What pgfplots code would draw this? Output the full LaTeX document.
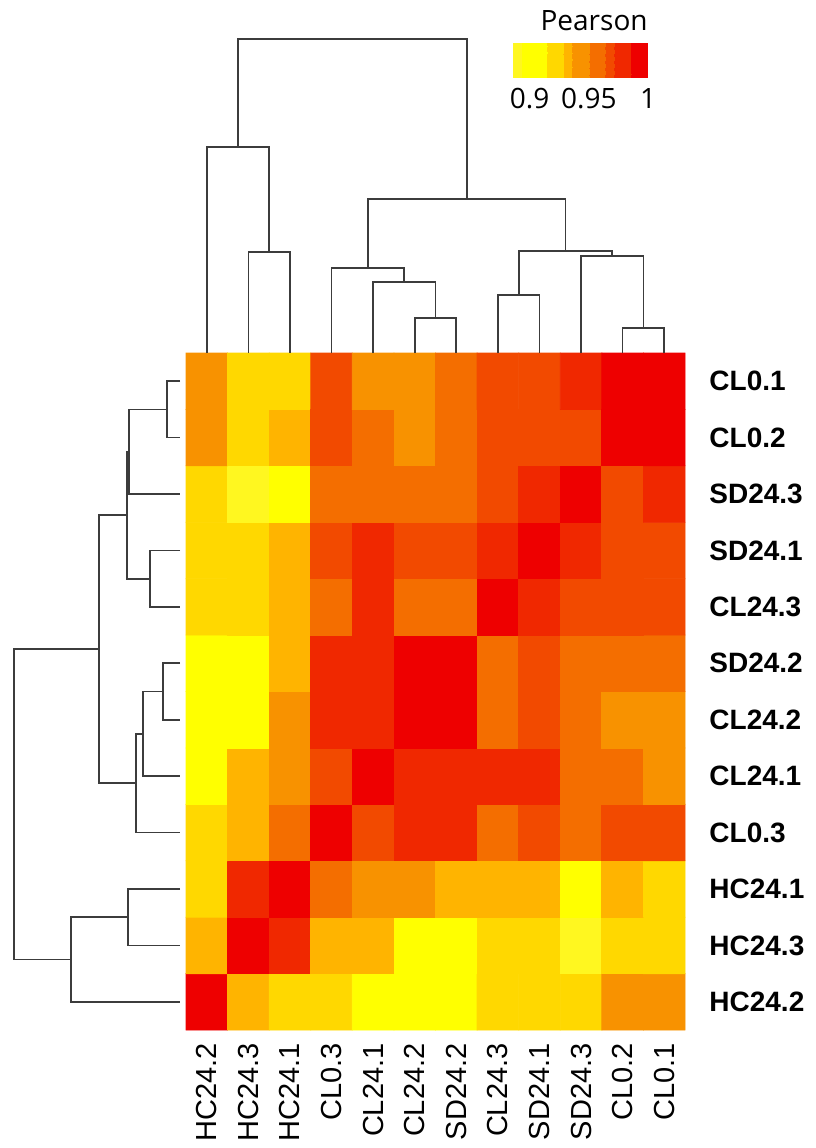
\documentclass[border=0pt]{standalone}
\usepackage{pgfplots}
\pgfplotsset{compat=1.18}
\usepackage{pgfplotstable}
\usepackage{fontspec}
\setmainfont{Liberation Sans}
\newfontfamily\osans{Open Sans}
\definecolor{dendrocol}{RGB}{60,60,60}
\tikzset{dendro/.style={draw=dendrocol, line width=0.85pt, mark=none, solid}}
\pgfplotsset{
  colormap={pearson}{rgb255(0pt)=(255,247,32) rgb255(73pt)=(255,255,0) rgb255(285pt)=(255,216,0) rgb255(425pt)=(255,180,0) rgb255(496pt)=(248,146,0) rgb255(644pt)=(244,110,0) rgb255(777pt)=(242,74,0) rgb255(853pt)=(240,40,0) rgb255(994pt)=(238,0,0) rgb255(1140pt)=(238,0,0)},
}
\pgfplotstableread{
x y v
0 0 1
1 0 0.932
2 0 0.921
3 0 0.921
4 0 0.904
5 0 0.904
6 0 0.904
7 0 0.921
8 0 0.921
9 0 0.921
10 0 0.943
11 0 0.943
0 1 0.932
1 1 1
2 1 0.978
3 1 0.932
4 1 0.932
5 1 0.904
6 1 0.904
7 1 0.921
8 1 0.921
9 1 0.890
10 1 0.921
11 1 0.921
0 2 0.921
1 2 0.978
2 2 1
3 2 0.957
4 2 0.943
5 2 0.943
6 2 0.932
7 2 0.932
8 2 0.932
9 2 0.904
10 2 0.932
11 2 0.921
0 3 0.921
1 3 0.932
2 3 0.957
3 3 1
4 3 0.967
5 3 0.978
6 3 0.978
7 3 0.957
8 3 0.967
9 3 0.957
10 3 0.967
11 3 0.967
0 4 0.904
1 4 0.932
2 4 0.943
3 4 0.967
4 4 1
5 4 0.978
6 4 0.978
7 4 0.978
8 4 0.978
9 4 0.957
10 4 0.957
11 4 0.943
0 5 0.904
1 5 0.904
2 5 0.943
3 5 0.978
4 5 0.978
5 5 1
6 5 0.993
7 5 0.957
8 5 0.967
9 5 0.957
10 5 0.943
11 5 0.943
0 6 0.904
1 6 0.904
2 6 0.932
3 6 0.978
4 6 0.978
5 6 0.993
6 6 1
7 6 0.957
8 6 0.967
9 6 0.957
10 6 0.957
11 6 0.957
0 7 0.921
1 7 0.921
2 7 0.932
3 7 0.957
4 7 0.978
5 7 0.957
6 7 0.957
7 7 1
8 7 0.978
9 7 0.967
10 7 0.967
11 7 0.967
0 8 0.921
1 8 0.921
2 8 0.932
3 8 0.967
4 8 0.978
5 8 0.967
6 8 0.967
7 8 0.978
8 8 1
9 8 0.978
10 8 0.967
11 8 0.967
0 9 0.921
1 9 0.890
2 9 0.904
3 9 0.957
4 9 0.957
5 9 0.957
6 9 0.957
7 9 0.967
8 9 0.978
9 9 1
10 9 0.967
11 9 0.978
0 10 0.943
1 10 0.921
2 10 0.932
3 10 0.967
4 10 0.957
5 10 0.943
6 10 0.957
7 10 0.967
8 10 0.967
9 10 0.967
10 10 1
11 10 0.993
0 11 0.943
1 11 0.921
2 11 0.921
3 11 0.967
4 11 0.943
5 11 0.943
6 11 0.957
7 11 0.967
8 11 0.967
9 11 0.978
10 11 0.993
11 11 1
}\corr
\begin{document}
\begin{tikzpicture}
\begin{axis}[
  scale only axis, width=249.5pt, height=338.5pt,
  xmin=-0.5, xmax=11.5, ymin=-0.5, ymax=11.5,
  clip=false,
  axis line style={draw=none},
  major tick length=0pt, tick style={draw=none},
  xtick={0,...,11},
  xticklabels={HC24.2,HC24.3,HC24.1,CL0.3,CL24.1,CL24.2,SD24.2,CL24.3,SD24.1,SD24.3,CL0.2,CL0.1},
  xticklabel style={yshift=-6.5pt, rotate=90, anchor=east, inner sep=0pt, font=\fontsize{14.5}{16}\selectfont},
  ytick={0,...,11},
  yticklabels={HC24.2,HC24.3,HC24.1,CL0.3,CL24.1,CL24.2,SD24.2,CL24.3,SD24.1,SD24.3,CL0.2,CL0.1},
  yticklabel pos=right,
  yticklabel style={anchor=west, inner sep=0pt, xshift=12pt, font=\fontsize{14}{16}\selectfont\bfseries},
  colormap name=pearson, colormap access=piecewise constant,
  point meta min=0.886, point meta max=1,
  colorbar horizontal,
  colorbar style={
    at={(0.6553,1.4579)}, anchor=north west,
    scale only axis, width=67.5pt, height=17.5pt,
    axis line style={draw=none},
    major tick length=0pt, tick style={draw=none},
    xtick={0.9,0.95,1}, xticklabels={0.9,0.95,1},
    xticklabel style={yshift=-5pt, anchor=north, inner sep=0pt, font=\osans\fontsize{14}{16}\selectfont},
    title={Pearson},
    every axis title shift=0pt,
    title style={at={(1,1)}, anchor=base east, inner sep=0pt, yshift=6pt, font=\osans\fontsize{14}{16}\selectfont},
  },
]
\addplot[matrix plot*, mesh/cols=12, point meta=explicit] table[x=x, y=y, meta=v] {\corr};
% top dendrogram
\addplot[dendro] coordinates {(1,11.5)(1,13.285)(2,13.285)(2,11.5)};
\addplot[dendro] coordinates {(0,11.5)(0,15.157)(1.5,15.157)(1.5,13.285)};
\addplot[dendro] coordinates {(5,11.5)(5,12.115)(6,12.115)(6,11.5)};
\addplot[dendro] coordinates {(4,11.5)(4,12.753)(5.5,12.753)(5.5,12.115)};
\addplot[dendro] coordinates {(3,11.5)(3,13.012)(4.75,13.012)(4.75,12.753)};
\addplot[dendro] coordinates {(7,11.5)(7,12.523)(8,12.523)(8,11.5)};
\addplot[dendro] coordinates {(10,11.5)(10,11.938)(11,11.938)(11,11.5)};
\addplot[dendro] coordinates {(9,11.5)(9,13.219)(10.5,13.219)(10.5,11.938)};
\addplot[dendro] coordinates {(7.5,12.523)(7.5,13.308)(9.75,13.308)(9.75,13.219)};
\addplot[dendro] coordinates {(3.875,13.012)(3.875,14.230)(8.625,14.230)(8.625,13.308)};
\addplot[dendro] coordinates {(0.75,15.157)(0.75,17.066)(6.25,17.066)(6.25,14.230)};
% left dendrogram
\addplot[dendro] coordinates {(-0.644,11)(-0.964,11)(-0.964,10)(-0.644,10)};
\addplot[dendro] coordinates {(-0.964,10.5)(-1.864,10.5)(-1.864,9)(-0.644,9)};
\addplot[dendro] coordinates {(-0.644,8)(-1.366,8)(-1.366,7)(-0.644,7)};
\addplot[dendro] coordinates {(-1.864,9.75)(-1.926,9.75)(-1.926,7.5)(-1.366,7.5)};
\addplot[dendro] coordinates {(-0.644,6)(-1.060,6)(-1.060,5)(-0.644,5)};
\addplot[dendro] coordinates {(-1.060,5.5)(-1.527,5.5)(-1.527,4)(-0.644,4)};
\addplot[dendro] coordinates {(-1.527,4.75)(-1.702,4.75)(-1.702,3)(-0.644,3)};
\addplot[dendro] coordinates {(-1.926,8.625)(-2.585,8.625)(-2.585,3.875)(-1.702,3.875)};
\addplot[dendro] coordinates {(-0.644,2)(-1.902,2)(-1.902,1)(-0.644,1)};
\addplot[dendro] coordinates {(-1.902,1.5)(-3.266,1.5)(-3.266,0)(-0.644,0)};
\addplot[dendro] coordinates {(-2.585,6.25)(-4.629,6.25)(-4.629,0.75)(-3.266,0.75)};
\coordinate (bbSW) at (axis cs:-4.973,-2.591);
\coordinate (bbNE) at (axis cs:14.626,17.757);
\end{axis}
\pgfresetboundingbox
\path (bbSW) rectangle (bbNE);
\end{tikzpicture}
\end{document}
